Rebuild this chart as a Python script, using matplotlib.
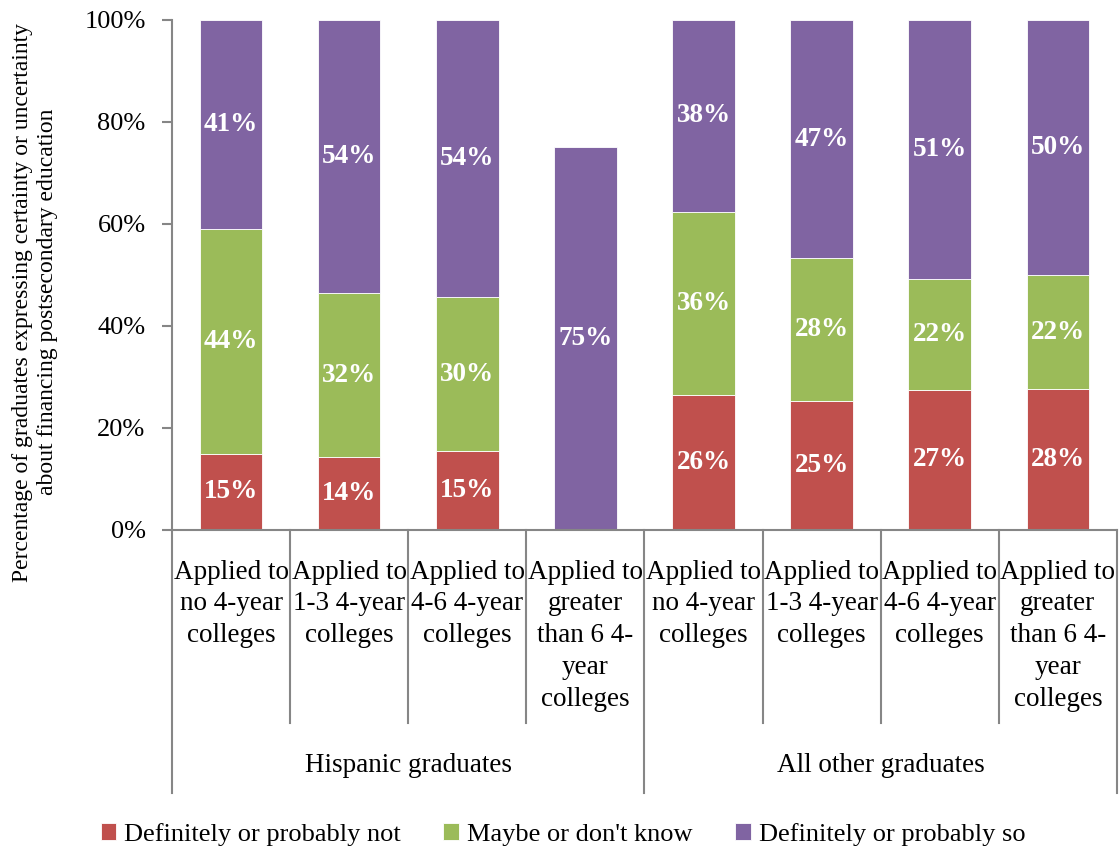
import matplotlib
matplotlib.use("Agg")
import matplotlib.pyplot as plt
import numpy as np

plt.rcParams['font.family'] = ['Liberation Serif', 'DejaVu Serif']

# categories and groups
categories = [
    "Applied to\nno 4-year\ncolleges",
    "Applied to\n1-3 4-year\ncolleges",
    "Applied to\n4-6 4-year\ncolleges",
    "Applied to\ngreater\nthan 6 4-\nyear\ncolleges",
    "Applied to\nno 4-year\ncolleges",
    "Applied to\n1-3 4-year\ncolleges",
    "Applied to\n4-6 4-year\ncolleges",
    "Applied to\ngreater\nthan 6 4-\nyear\ncolleges",
]
groups = ["Hispanic graduates", "All other graduates"]
group_size = 4

# percent of graduates in each response
not_so = [14.9, 14.2, 15.4, 0, 26.4, 25.3, 27.4, 27.6]
maybe = [44.1, 32.2, 30.2, 0, 36.0, 27.9, 21.8, 22.3]
yes_so = [41.0, 53.6, 54.4, 75.0, 37.6, 46.8, 50.8, 50.1]

series = [
    ("Definitely or probably not", not_so, "#C0504D"),
    ("Maybe or don't know", maybe, "#9BBB59"),
    ("Definitely or probably so", yes_so, "#8064A2"),
]

fig = plt.figure(figsize=(11.19, 8.46), dpi=100)
ax = fig.add_axes([0.1537, 0.3741, 0.8445, 0.6023])

x = np.arange(len(categories))
bottom = np.zeros(len(categories))
fs = 19.5
for name, vals, col in series:
    vals = np.array(vals, dtype=float)
    ax.bar(x, vals, 0.53, bottom=bottom, color=col, edgecolor="white",
           linewidth=0.6, label=name)
    for xi, b, v in zip(x, bottom, vals):
        if v > 0:
            ax.text(xi, b + v / 2, f"{v:.0f}%", ha="center", va="center",
                    color="white", fontweight="bold", fontsize=fs)
    bottom += vals

ax.set_xlim(-0.5, len(categories) - 0.5)
ax.set_ylim(0, 100)
ax.set_yticks(np.arange(0, 101, 20))
ax.set_yticklabels([f"{t}%" for t in range(0, 101, 20)], fontsize=19)
ax.tick_params(axis="y", direction="out", length=7, width=1.5,
               color="#868686", pad=12)
ax.set_xticks([])
for s in ["top", "right"]:
    ax.spines[s].set_visible(False)
for s in ["left", "bottom"]:
    ax.spines[s].set_color("#868686")
    ax.spines[s].set_linewidth(1.5)

fig.text(35 / 1119, 1 - 302 / 846,
         "Percentage of graduates expressing certainty or uncertainty\n"
         "about financing postsecondary education",
         rotation=90, ha="center", va="center", fontsize=17,
         linespacing=1.3)

# multi-level category axis drawn below the plot
trans = ax.get_xaxis_transform()
px = 1.0 / (0.6023 * 846)
gray = "#868686"
for i in range(len(categories) + 1):
    xe = i - 0.5
    low = -263 * px if i % group_size == 0 else -193 * px
    ax.plot([xe, xe], [0, low], color=gray, lw=1.5, transform=trans,
            clip_on=False)
for i, lab in enumerate(categories):
    ax.text(i, -30 * px, lab, ha="center", va="top", fontsize=fs,
            linespacing=1.36, transform=trans)
for g, name in enumerate(groups):
    xc = g * group_size + (group_size - 1) / 2
    ax.text(xc, -236 * px, name, ha="center", va="center", fontsize=fs,
            transform=trans)

fig.legend(loc="lower center", bbox_to_anchor=(0.503, -0.028), ncol=3,
           frameon=False, fontsize=19, handlelength=0.6, handleheight=0.6,
           handletextpad=0.3, columnspacing=1.6)

fig.savefig("out.png", dpi=100)
